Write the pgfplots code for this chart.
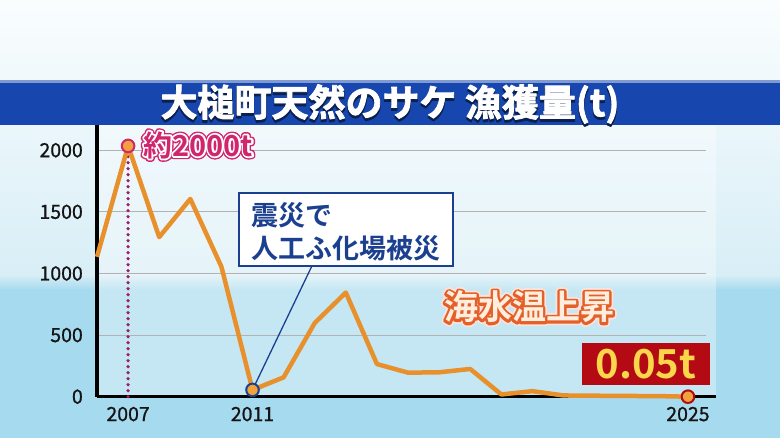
\documentclass[border=0pt]{standalone}
\usepackage{fontspec}
\usepackage{pgfplots}
\pgfplotsset{compat=1.18}
\newfontfamily\cjk{Noto Sans CJK JP}[BoldFont={Noto Sans CJK JP Bold}]
\newfontfamily\cjkmed{Noto Sans CJK JP}[FakeBold=0.9]
% outlined text: fill and stroke the glyphs with the current colour
\newcommand\outl[2]{\special{pdf:literal direct 2 Tr #1 w 1 j}#2\special{pdf:literal direct 0 Tr}}
% dropped shadow: same glyphs lowered by a text rise
\newcommand\shadowed[2]{\special{pdf:literal direct #1 Ts 2 Tr 1.6 w 1 j}#2\special{pdf:literal direct 0 Ts 0 Tr}}

\definecolor{bgtop}{HTML}{FAFDFE}
\definecolor{bgmid}{HTML}{D8EEF6}
\definecolor{bglow}{HTML}{A6DAEE}
\definecolor{barblue}{HTML}{1747AE}
\definecolor{catchline}{HTML}{E8912C}
\definecolor{dotfill}{HTML}{F2A23C}
\definecolor{pinkred}{HTML}{D0266E}
\definecolor{dotline}{HTML}{9A1F66}
\definecolor{navy}{HTML}{1B4090}
\definecolor{darkred}{HTML}{B30A14}
\definecolor{yel}{HTML}{F9D64A}
\definecolor{hot}{HTML}{E4602A}
\definecolor{pale}{HTML}{FFEEDD}
\definecolor{glow}{HTML}{FBE3DC}

\pgfplotstableread{
year catch
2006 1135
2007 2035
2008 1295
2009 1605
2010 1055
2011 55
2012 157
2013 598
2014 845
2015 265
2016 195
2017 198
2018 225
2019 18
2020 45
2021 10
2022 8
2023 6
2024 5
2025 0.05
}\catchdata

\begin{document}
\begin{tikzpicture}[x=1pt,y=1pt]
\useasboundingbox (0,0) rectangle (780,438);
% background
\shade[top color=bgtop, bottom color=bgmid] (0,163) rectangle (780,438);
\shade[top color=bgmid, bottom color=bglow] (0,148) rectangle (780,163.2);
\fill[bglow] (0,0) rectangle (780,148.2);
% chart panel
\fill[white, opacity=0.35] (97,41) rectangle (716,313);
% title bar
\fill[barblue] (0,313) rectangle (780,356);
\fill[barblue!55!white] (0,355) rectangle (780,357.5);
\node[font=\cjk\bfseries\fontsize{37}{37}\selectfont, text=barblue!45!black] at (390,334) {\shadowed{-2.5}{大槌町天然のサケ\ 漁獲量(t)}};
\node[font=\cjk\bfseries\fontsize{37}{37}\selectfont, text=white] at (390,334) {\outl{0.8}{大槌町天然のサケ\ 漁獲量(t)}};

\begin{axis}[
  at={(97pt,41.3pt)}, anchor=south west, scale only axis,
  width=609pt, height=271.7pt,
  xmin=2006, xmax=2025.58, ymin=0, ymax=2205,
  axis x line*=bottom, axis y line*=left,
  axis line style={line width=3.5pt, black},
  xtick={2007,2011,2025}, xticklabels={2007,2011,2025},
  ytick={0,500,1000,1500,2000},
  major tick length=0pt,
  ymajorgrids, grid style={line width=1pt, color=black!30},
  tick label style={font=\cjkmed\fontsize{19.5}{19.5}\selectfont, text=black!92},
  /pgf/number format/assume math mode=true,
  /pgf/number format/1000 sep={},
  xticklabel style={anchor=north, inner sep=0pt, yshift=-10pt},
  yticklabel style={anchor=east, inner sep=0pt, xshift=-14pt},
  clip=false,
]
\addplot[dotline, line width=3.6pt, line cap=round, dash pattern=on 0pt off 6pt]
  coordinates {(2007,0) (2007,2035)};
\addplot[catchline, line width=4.5pt, line join=round] table[x=year, y=catch] {\catchdata};
\addplot[navy, line width=1.3pt] coordinates {(2011,55) (2012.91,1061)};
\addplot[only marks, mark=*, mark size=6.3pt, mark options={fill=dotfill, draw=pinkred, line width=2pt}]
  coordinates {(2007,2035)};
\addplot[only marks, mark=*, mark size=6.3pt, mark options={fill=dotfill, draw=navy, line width=2pt}]
  coordinates {(2011,55)};
\addplot[only marks, mark=*, mark size=6.3pt, mark options={fill=dotfill, draw=darkred, line width=2pt}]
  coordinates {(2025,0.05)};
\end{axis}
% x axis stub past last grid line
\draw[black, line width=3.5pt] (705,41.3) -- (716,41.3);

% label at peak
\node[anchor=west, inner sep=0pt, text=pinkred, font=\cjk\bfseries\fontsize{29}{29}\selectfont] at (143,293) {\outl{6.4}{約2000t}};
\node[anchor=west, inner sep=0pt, text=white, font=\cjk\bfseries\fontsize{29}{29}\selectfont] at (143,293) {\outl{3.6}{約2000t}};
\node[anchor=west, inner sep=0pt, text=pinkred, font=\cjk\bfseries\fontsize{29}{29}\selectfont] at (143,293) {約2000t};

% callout box
\draw[navy, line width=2pt, fill=white] (239,245) rectangle (453,172);
\node[anchor=west, inner sep=0pt, text=navy, font=\cjk\bfseries\fontsize{27}{27}\selectfont] at (251,223) {震災で};
\node[anchor=west, inner sep=0pt, text=navy, font=\cjk\bfseries\fontsize{27}{27}\selectfont] at (251,190) {人工ふ化場被災};

% sea temperature label
\node[inner sep=0pt, text=glow, font=\cjk\bfseries\fontsize{34}{34}\selectfont] at (529,131) {\outl{8.4}{海水温上昇}};
\node[inner sep=0pt, text=hot, font=\cjk\bfseries\fontsize{34}{34}\selectfont] at (529,131) {\outl{4.8}{海水温上昇}};
\node[inner sep=0pt, text=pale, font=\cjk\bfseries\fontsize{34}{34}\selectfont] at (529,131) {海水温上昇};

% latest value box
\fill[darkred] (582,53) rectangle (710,95);
\node[inner sep=0pt, text=yel, font=\cjk\bfseries\fontsize{40}{40}\selectfont] at (646,74) {0.05t};
\end{tikzpicture}
\end{document}
